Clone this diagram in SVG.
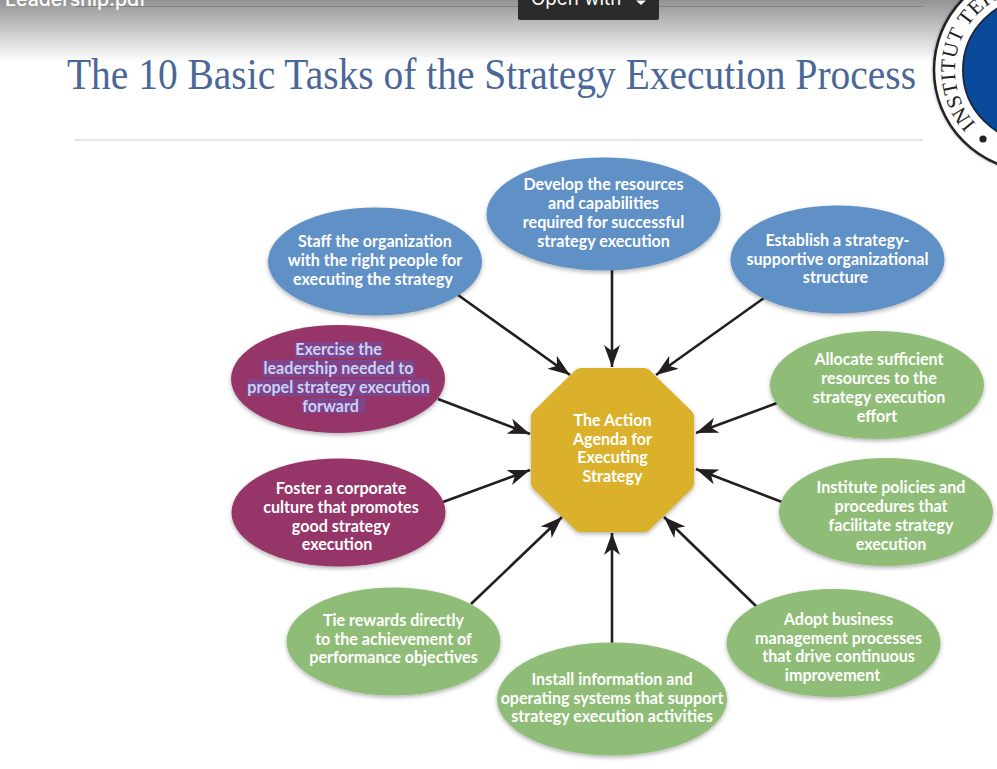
<svg xmlns="http://www.w3.org/2000/svg" width="997" height="769" viewBox="0 0 997 769">
<defs>
<linearGradient id="top" x1="0" y1="0" x2="0" y2="1"><stop offset="0" stop-color="#949494"/><stop offset="1" stop-color="#ffffff"/></linearGradient>
<filter id="sh" x="-10%" y="-10%" width="120%" height="125%"><feDropShadow dx="0" dy="2" stdDeviation="2" flood-color="#000" flood-opacity="0.3"/></filter>
<filter id="lg" x="-10%" y="-10%" width="120%" height="120%"><feGaussianBlur stdDeviation="1.2"/></filter>
<marker id="arr" markerWidth="24" markerHeight="18" refX="22" refY="8" orient="auto" markerUnits="userSpaceOnUse"><path d="M0 0L22 8L0 16L6 8Z" fill="#231f20"/></marker>
<path id="seal" d="M976 124A80 80 0 0 1 1035 -10"/>
</defs>
<style>
text{font-family:Lato,"Open Sans","Liberation Sans",sans-serif}
.l{font-size:16.100px;font-weight:700;fill:#fff;text-anchor:middle}
.s{fill:#c9d3f5}
.b{fill:#5e90c6}.g{fill:#8fbd77}.m{fill:#953568}
.c line{stroke:#231f20;stroke-width:2.6;marker-end:url(#arr)}
.hl{fill:#7f458c}
</style>
<rect x="0" y="0" width="997" height="62" fill="url(#top)"/>
<line x1="75" y1="6.500" x2="923" y2="6.500" stroke="#808080" stroke-width="1"/>
<text x="5" y="6" font-size="19.500" font-weight="500" fill="#fff" style="font-family:Inter,'Liberation Sans',sans-serif">Leadership.pdf</text>
<path d="M518 0H659V18a2 2 0 0 1-2 2H520a2 2 0 0 1-2-2Z" fill="#2b2b2b"/>
<text x="531" y="5" font-size="18.800" fill="#fff" style="font-family:Inter,'Liberation Sans',sans-serif">Open with</text>
<path d="M636 0.500H646L641 5Z" fill="#fff"/>
<text x="67" y="89" font-size="45" fill="#4a6798" textLength="849" lengthAdjust="spacingAndGlyphs" style="font-family:'Liberation Serif',serif">The 10 Basic Tasks of the Strategy Execution Process</text>
<line x1="75" y1="140" x2="923" y2="140" stroke="#dcdcdc" stroke-width="1.600"/>
<g id="seal-logo">
<circle cx="1035" cy="70" r="103" fill="#000" opacity="0.25" filter="url(#lg)"/>
<circle cx="1035" cy="70" r="101" fill="#fff" stroke="#222" stroke-width="2.500"/>
<circle cx="1035" cy="70" r="72" fill="#0a4a9a" stroke="#1d2a44" stroke-width="2"/>
<circle cx="983" cy="139" r="3.600" fill="#222"/>
<path d="M997 98q4-6 4-2v20q-4 3-4 0Z" fill="#d8e4ee"/>
<text font-size="21" fill="#222" style="font-family:'Liberation Serif',serif" letter-spacing="0.600"><textPath href="#seal">INSTITUT TEK</textPath></text>
</g>
<g class="c" id="connectors">
<line x1="612" y1="270" x2="612" y2="367"/>
<line x1="458" y1="295" x2="570" y2="375"/>
<line x1="764" y1="298" x2="656" y2="375"/>
<line x1="438" y1="399" x2="530" y2="434"/>
<line x1="777" y1="403" x2="696" y2="433"/>
<line x1="443" y1="502" x2="530" y2="470"/>
<line x1="782" y1="502" x2="696" y2="469"/>
<line x1="471" y1="604" x2="562" y2="517"/>
<line x1="757" y1="607" x2="664" y2="517"/>
<line x1="612" y1="643" x2="612" y2="533"/>
</g>
<g id="n-center"><path d="M581 368H644a8 8 0 0 1 6 2.500L691.500 411a8 8 0 0 1 2.500 6V483a8 8 0 0 1-2.500 6L650 529.500a8 8 0 0 1-6 2.500H581a8 8 0 0 1-6-2.500L533.500 489a8 8 0 0 1-2.500-6V417a8 8 0 0 1 2.500-6L575 370.500a8 8 0 0 1 6-2.500Z" fill="#dbb029" filter="url(#sh)"/>
<text class="l"><tspan x="612.500" y="426">The Action</tspan><tspan x="612.500" y="444.500">Agenda for</tspan><tspan x="612.500" y="463">Executing</tspan><tspan x="612.500" y="481.500">Strategy</tspan></text></g>
<g id="n-resources"><ellipse class="b" cx="603.500" cy="214" rx="117" ry="56.500" filter="url(#sh)"/>
<text class="l"><tspan x="603.500" y="190">Develop the resources</tspan><tspan x="603.500" y="209">and capabilities</tspan><tspan x="603.500" y="228">required for successful</tspan><tspan x="603.500" y="247">strategy execution</tspan></text></g>
<g id="n-staff"><ellipse class="b" cx="375" cy="261.500" rx="107" ry="54" filter="url(#sh)"/>
<text class="l"><tspan x="375" y="247">Staff the organization</tspan><tspan x="375" y="266">with the right people for</tspan><tspan x="373" y="285">executing the strategy</tspan></text></g>
<g id="n-structure"><ellipse class="b" cx="837.500" cy="259.500" rx="107" ry="54" filter="url(#sh)"/>
<text class="l"><tspan x="837.500" y="245.500">Establish a strategy-</tspan><tspan x="837.500" y="264.500">supportive organizational</tspan><tspan x="835.500" y="283">structure</tspan></text></g>
<g id="n-allocate"><ellipse class="g" cx="877" cy="385" rx="107" ry="54" filter="url(#sh)"/>
<text class="l"><tspan x="879" y="365">Allocate sufficient</tspan><tspan x="879" y="384">resources to the</tspan><tspan x="879" y="403">strategy execution</tspan><tspan x="877" y="421.500">effort</tspan></text></g>
<g id="n-exercise"><ellipse class="m" cx="338" cy="379" rx="107" ry="54" filter="url(#sh)"/>
<rect class="hl" x="295" y="342" width="88" height="16"/><rect class="hl" x="262" y="360" width="153" height="17"/><rect class="hl" x="247" y="379" width="183" height="17"/><rect class="hl" x="303" y="398" width="62" height="15"/>
<text class="l"><tspan class="s" x="338.500" y="355">Exercise the</tspan><tspan class="s" x="338.500" y="374">leadership needed to</tspan><tspan class="s" x="338.500" y="393">propel strategy execution</tspan><tspan class="s" x="330.500" y="412">forward</tspan></text></g>
<g id="n-policies"><ellipse class="g" cx="886" cy="512" rx="107" ry="54" filter="url(#sh)"/>
<text class="l"><tspan x="891" y="493">Institute policies and</tspan><tspan x="891" y="512">procedures that</tspan><tspan x="891" y="531">facilitate strategy</tspan><tspan x="891" y="550">execution</tspan></text></g>
<g id="n-culture"><ellipse class="m" cx="338.500" cy="512.500" rx="107" ry="54" filter="url(#sh)"/>
<text class="l"><tspan x="341" y="494">Foster a corporate</tspan><tspan x="341" y="513">culture that promotes</tspan><tspan x="341" y="531.500">good strategy</tspan><tspan x="337" y="550">execution</tspan></text></g>
<g id="n-rewards"><ellipse class="g" cx="393.500" cy="641.500" rx="107" ry="54" filter="url(#sh)"/>
<text class="l"><tspan x="393.500" y="626">Tie rewards directly</tspan><tspan x="393.500" y="645">to the achievement of</tspan><tspan x="393.500" y="663">performance objectives</tspan></text></g>
<g id="n-processes"><ellipse class="g" cx="833.500" cy="643" rx="107" ry="54" filter="url(#sh)"/>
<text class="l"><tspan x="838.500" y="625">Adopt business</tspan><tspan x="838.500" y="643.500">management processes</tspan><tspan x="838.500" y="662">that drive continuous</tspan><tspan x="832.500" y="681">improvement</tspan></text></g>
<g id="n-systems"><ellipse class="g" cx="612" cy="699" rx="115" ry="56.500" filter="url(#sh)"/>
<text class="l"><tspan x="612" y="685">Install information and</tspan><tspan x="612" y="703.500">operating systems that support</tspan><tspan x="612" y="722">strategy execution activities</tspan></text></g>
</svg>
